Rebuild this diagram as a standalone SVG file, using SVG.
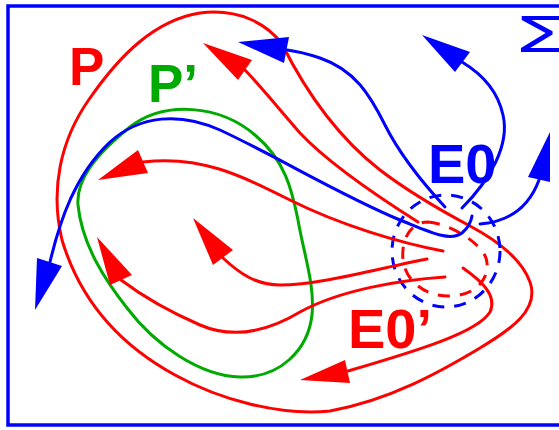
<svg xmlns="http://www.w3.org/2000/svg" width="559" height="430" viewBox="0 0 559 430">
<style>
.r{fill:none;stroke:#FF0000;stroke-width:3;stroke-linecap:round}
.b{fill:none;stroke:#0000FF;stroke-width:3;stroke-linecap:round}
.g{fill:none;stroke:#00AA00;stroke-width:3}
.rd{fill:none;stroke:#FF0000;stroke-width:3;stroke-dasharray:12 10}
.bd{fill:none;stroke:#0000FF;stroke-width:3;stroke-dasharray:12 10}
.ra{fill:#FF0000;stroke:none}
.ba{fill:#0000FF;stroke:none}
.t{font-family:"Liberation Sans",Arial,sans-serif;font-weight:bold}
</style>
<rect width="559" height="430" fill="#FFFFFF"/>
<g id="frame">
<rect x="8" y="6" width="560" height="419" fill="none" stroke="#0000FF" stroke-width="3.5"/>
<text x="516" y="52" font-family="Liberation Sans, Arial, sans-serif" font-size="52" fill="#0000FF" textLength="58" lengthAdjust="spacingAndGlyphs">Σ</text>
</g>
<g id="P">
<path class="r" d="M282,44 C305,90 335,135 380,170 C410,193 440,210 470,226 C500,242 522,260 530,282 C540,310 510,330 480,348 C440,372 390,400 330,411 C280,416 220,400 175,375 C120,345 80,300 62,240 C50,190 60,140 90,98 C120,55 155,20 200,13 C240,8 268,25 282,44 Z"/>
<text class="t" x="69" y="85" font-size="53" fill="#FF0000">P</text>
</g>
<g id="Pprime">
<path class="g" d="M78,205 C76,180 95,155 130,127 C165,100 220,105 255,135 C285,160 292,190 298,220 C304,255 315,285 312,315 C308,350 280,378 240,377 C200,376 155,345 127,308 C105,280 82,245 78,205 Z"/>
<text class="t" x="148" y="102" font-size="53" fill="#00AA00">P’</text>
</g>
<g id="E0">
<ellipse class="bd" cx="446" cy="251" rx="54" ry="56"/>
<text class="t" x="428" y="183" font-size="56" fill="#0000FF">E0</text>
</g>
<g id="E0prime">
<path class="rd" d="M428,222 C450,224 480,242 486,258 C492,278 475,296 450,296 C425,297 405,280 403,260 C401,240 410,222 428,222 Z"/>
<text class="t" x="348" y="348" font-size="56" fill="#FF0000">E0’</text>
</g>
<g id="connectors">
<path class="b" d="M50,262 C60,220 75,175 110,142 C140,115 180,112 220,130 C280,158 340,195 400,220 C430,232 450,242 462,233 C468,228 471,222 472,216"/>
<polygon class="ba" points="35,310 37,258 62,266"/>
<path class="b" d="M462,208 C490,180 510,145 503,115 C498,92 482,74 462,62"/>
<polygon class="ba" points="422,35 455,72 470,52"/>
<path class="b" d="M445,207 C420,180 400,155 385,125 C370,95 355,70 320,58 C305,53 295,51 287,50"/>
<polygon class="ba" points="238,42 289,37 284,63"/>
<path class="b" d="M480,224 C505,222 528,210 539,180"/>
<polygon class="ba" points="550,132 528,177 550,182"/>
<path class="r" d="M418,222 C380,198 330,165 300,133 C280,110 262,88 245,70"/>
<polygon class="ra" points="203,43 238,80 252,60"/>
<path class="r" d="M443,251 C400,243 340,225 290,200 C240,175 200,155 143,162"/>
<polygon class="ra" points="98,180 138,150 148,173"/>
<path class="r" d="M427,259 C380,268 320,285 280,285 C255,285 238,272 223,258"/>
<polygon class="ra" points="193,218 213,265 233,250"/>
<path class="r" d="M445,277 C400,280 340,290 300,312 C270,330 235,340 200,325 C170,312 145,298 121,280"/>
<polygon class="ra" points="97,237 110,285 132,275"/>
<path class="r" d="M463,268 C480,280 498,295 490,312 C478,332 420,350 348,371"/>
<polygon class="ra" points="300,380 345,360 350,383"/>
</g>
</svg>
